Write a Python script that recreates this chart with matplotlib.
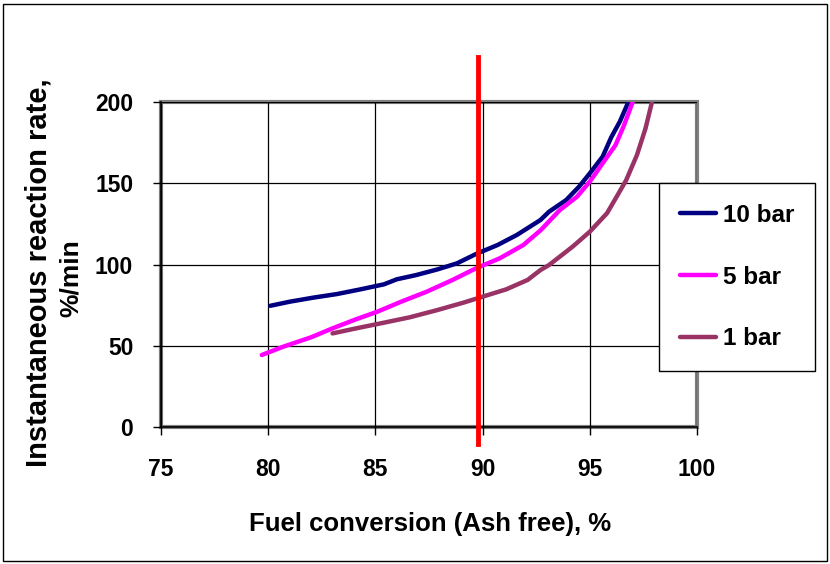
import matplotlib
matplotlib.use("Agg")
import matplotlib.pyplot as plt
from matplotlib.patches import Rectangle

# values
x_10bar = [80.1, 81.0, 82.1, 83.2, 84.3, 85.4, 86.0, 86.9, 87.9, 88.8, 89.7, 90.7, 91.6,
           92.7, 93.1, 93.9, 94.5, 95.0, 95.6, 96.0, 96.4, 96.8]
y_10bar = [74.6, 77.1, 79.6, 81.8, 84.7, 87.8, 90.9, 93.5, 97.0, 100.7, 106.5, 112.0, 118.2,
           127.4, 132.5, 139.7, 147.9, 156.1, 166.4, 178.3, 187.9, 200.0]

x_5bar = [79.7, 80.7, 82.0, 83.0, 84.1, 85.1, 86.2, 87.4, 88.6, 89.7, 90.8, 91.9, 92.7,
          93.6, 94.4, 95.0, 95.6, 96.2, 96.6, 97.0]
y_5bar = [44.3, 49.4, 55.2, 60.7, 66.3, 71.0, 77.1, 83.3, 90.5, 97.7, 103.8, 112.0, 121.0,
          133.5, 141.7, 151.0, 162.3, 173.5, 185.8, 200.0]

x_1bar = [83.0, 84.1, 85.4, 86.6, 87.9, 89.1, 90.0, 91.1, 92.1, 92.7, 93.1, 93.5, 94.2,
          95.0, 95.8, 96.3, 96.7, 97.2, 97.6, 97.9]
y_1bar = [57.6, 60.7, 64.2, 67.5, 72.0, 76.5, 80.2, 84.7, 90.5, 96.6, 99.7, 103.8, 111.0,
          120.2, 131.5, 142.8, 152.0, 167.4, 183.8, 200.0]

ref_conversion = 89.8
x_ticks = [75, 80, 85, 90, 95, 100]
y_ticks = [0, 50, 100, 150, 200]

plt.rcParams['font.family'] = ['Liberation Sans', 'DejaVu Sans']
plt.rcParams['font.weight'] = 'bold'

fig = plt.figure(figsize=(8.3, 5.64), dpi=100)
ax = fig.add_axes([161/830, 1 - 427/564, 536/830, 325/564])

ax.set_xlim(75, 100)
ax.set_ylim(0, 200)
ax.set_xticks(x_ticks)
ax.set_yticks(y_ticks)
ax.grid(True, color='black', linewidth=0.9)
ax.set_axisbelow(True)

l1, = ax.plot(x_10bar, y_10bar, color='#000080', lw=3.2, solid_capstyle='round', label='10 bar')
l2, = ax.plot(x_5bar, y_5bar, color='#FF00FF', lw=3.2, solid_capstyle='round', label='5 bar')
l3, = ax.plot(x_1bar, y_1bar, color='#993366', lw=3.2, solid_capstyle='round', label='1 bar')

# red marker line, runs past the plot area
ax.plot([ref_conversion, ref_conversion], [-10.5, 228], color='#FF0000', lw=3.5,
        clip_on=False, zorder=6)

# excel style frame: grey plot area border, black axis lines
ax.patch.set_edgecolor('#808080')
ax.patch.set_linewidth(3)
for s in ['top', 'right']:
    ax.spines[s].set_visible(False)
for s in ['left', 'bottom']:
    ax.spines[s].set_color('black')
    ax.spines[s].set_linewidth(1.2)
ax.tick_params(direction='out', length=6, width=1, colors='black', labelsize=16.5)
ax.tick_params(axis='x', pad=16)
ax.tick_params(axis='y', pad=14)
for lab in ax.get_xticklabels() + ax.get_yticklabels():
    lab.set_fontweight('bold')

fig.text(430/830, 1 - 524/564, 'Fuel conversion (Ash free), %', ha='center', va='center',
         fontsize=18.5, fontweight='bold')
fig.text(39/830, 1 - 273/564, 'Instantaneous reaction rate,', ha='center', va='center',
         rotation=90, fontsize=21, fontweight='bold')
fig.text(71/830, 1 - 278/564, '%/min', ha='center', va='center',
         rotation=90, fontsize=19, fontweight='bold')

leg = fig.legend(handles=[l1, l2, l3], loc='upper left', bbox_to_anchor=(659/830, 1 - 183/564),
                 frameon=True, fancybox=False, edgecolor='black', framealpha=1,
                 prop={'size': 17.5, 'weight': 'bold'}, handlelength=1.5, handletextpad=0.3,
                 labelspacing=1.6, borderpad=0.85, borderaxespad=0)
leg.get_frame().set_linewidth(1)

# outer border of the chart
fig.patches.append(Rectangle((3/830, 3/564), 824/830, 557/564, transform=fig.transFigure,
                             fill=False, edgecolor='black', lw=1))

fig.savefig('out.png', dpi=100)
